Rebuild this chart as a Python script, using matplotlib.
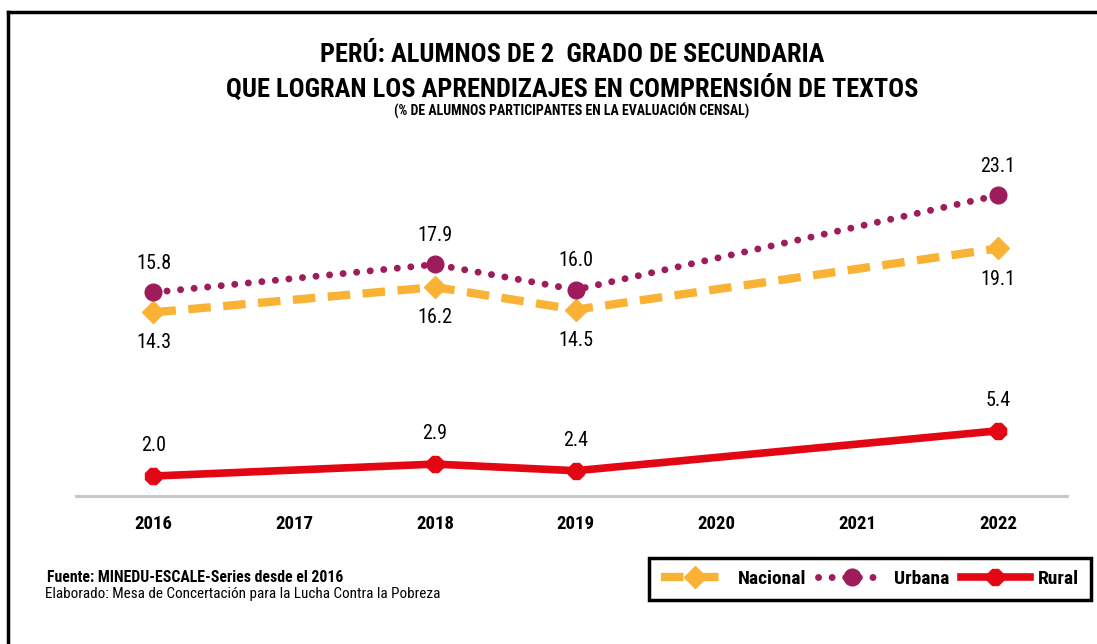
import numpy as np
import matplotlib
matplotlib.use("Agg")
import matplotlib.pyplot as plt
from matplotlib.lines import Line2D

# DATOS
anios = [2016, 2018, 2019, 2022]
nacional = [14.3, 16.2, 14.5, 19.1]
urbana = [15.8, 17.9, 16.0, 23.1]
rural = [2.0, 2.9, 2.4, 5.4]
ticks = [2016, 2017, 2018, 2019, 2020, 2021, 2022]

c_nac = "#F9B233"
c_urb = "#9E1B5C"
c_rur = "#E30613"

plt.rcParams['font.family'] = ['Roboto Condensed', 'Archivo Narrow',
                               'Liberation Sans Narrow', 'DejaVu Sans']

fig = plt.figure(figsize=(10.97, 6.44), dpi=100)
ax = fig.add_axes([0.0693, 0.2298, 0.9034, 0.5528])

# series
ax.plot(anios, nacional, color=c_nac, lw=6, linestyle=(0, (2.7, 1.5)),
        dash_capstyle='butt', marker='D', ms=11.5, label='Nacional')
ax.plot(anios, urbana, color=c_urb, lw=5, linestyle=(0, (0.01, 1.95)),
        dash_capstyle='round', marker='o', ms=12, label='Urbana')
ax.plot(anios, rural, color=c_rur, lw=5.5, marker='8', ms=12, label='Rural')

# etiquetas
for x, v in zip(anios, nacional):
    ax.annotate(f"{v:.1f}", (x, v), xytext=(0, -22), textcoords='offset points',
                ha='center', va='center', fontsize=14.5)
for x, v in zip(anios, urbana):
    ax.annotate(f"{v:.1f}", (x, v), xytext=(0, 21), textcoords='offset points',
                ha='center', va='center', fontsize=14.5)
for x, v in zip(anios, rural):
    ax.annotate(f"{v:.1f}", (x, v), xytext=(0, 22), textcoords='offset points',
                ha='center', va='center', fontsize=14.5)

ax.set_xlim(2015.45, 2022.49)
ax.set_ylim(0.5, 27.25)
ax.set_xticks(ticks)
ax.set_xticklabels([str(t) for t in ticks], fontsize=13.5, fontweight='bold')
ax.tick_params(axis='x', length=0, pad=14)
ax.set_yticks([])
for s in ['top', 'right', 'left']:
    ax.spines[s].set_visible(False)
ax.spines['bottom'].set_color('#C8C8C8')
ax.spines['bottom'].set_linewidth(2.2)

# titulos
fig.text(0.5214, 1 - 55/644, "PERÚ: ALUMNOS DE 2  GRADO DE SECUNDARIA",
         ha='center', va='center', fontsize=19, fontweight='bold')
fig.text(0.5214, 1 - 88/644, "QUE LOGRAN LOS APRENDIZAJES EN COMPRENSIÓN DE TEXTOS",
         ha='center', va='center', fontsize=19, fontweight='bold')
fig.text(0.5214, 1 - 111/644, "(% DE ALUMNOS PARTICIPANTES EN LA EVALUACIÓN CENSAL)",
         ha='center', va='center', fontsize=10, fontweight='bold')

# fuente
fig.text(47/1097, 1 - 577/644, "Fuente: MINEDU-ESCALE-Series desde el 2016",
         ha='left', va='center', fontsize=11.3, fontweight='bold')
fig.text(45/1097, 1 - 594/644, "Elaborado: Mesa de Concertación para la Lucha Contra la Pobreza",
         ha='left', va='center', fontsize=10.9)

# leyenda
leg = fig.legend(loc='center', bbox_to_anchor=(870/1097, 1 - 579/644), ncol=3,
                 fontsize=14, frameon=True, fancybox=False, framealpha=1,
                 handlelength=3.5, columnspacing=0.6, handletextpad=0.45,
                 borderpad=0.6)
leg.get_frame().set_edgecolor('black')
leg.get_frame().set_linewidth(2.5)
for t in leg.get_texts():
    t.set_fontweight('bold')

# marco
fig.add_artist(Line2D([8/1097, 1], [1 - 12/644, 1 - 12/644], color='black', lw=2.5,
                      transform=fig.transFigure))
fig.add_artist(Line2D([8/1097, 8/1097], [0, 1 - 12/644], color='black', lw=2.5,
                      transform=fig.transFigure))

fig.savefig("out.png", dpi=100)
